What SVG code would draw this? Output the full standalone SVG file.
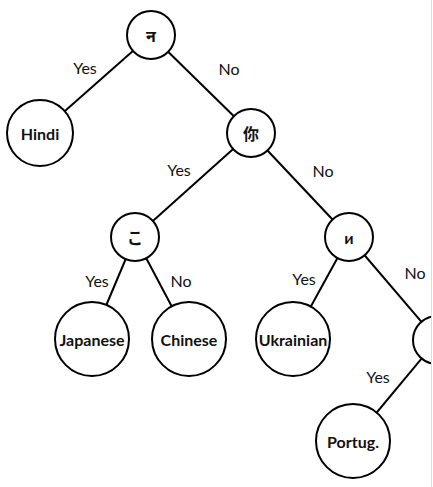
<svg xmlns="http://www.w3.org/2000/svg" width="433" height="487" viewBox="0 0 433 487">
<style>
.e{stroke:#000;stroke-width:2;fill:none}
.n{fill:#fff;stroke:#000;stroke-width:2}
.t{font-family:Lato,"Noto Sans","Noto Sans CJK SC",sans-serif;font-weight:bold;font-size:16px;text-anchor:middle;dominant-baseline:central;fill:#111}
.l{font-family:Lato,"Liberation Sans",sans-serif;font-size:16px;text-anchor:middle;fill:#111}
</style>
<defs><clipPath id="clip"><rect x="0" y="0" width="431" height="487"/></clipPath></defs>
<rect width="433" height="487" fill="#fff"/>
<g clip-path="url(#clip)">
<g id="connectors">
<line class="e" x1="151" y1="35" x2="40" y2="133"/>
<line class="e" x1="151" y1="35" x2="251" y2="133"/>
<line class="e" x1="251" y1="133" x2="135" y2="237"/>
<line class="e" x1="251" y1="133" x2="349" y2="237"/>
<line class="e" x1="135" y1="237" x2="92" y2="339"/>
<line class="e" x1="135" y1="237" x2="189" y2="339"/>
<line class="e" x1="349" y1="237" x2="293" y2="339"/>
<line class="e" x1="349" y1="237" x2="437" y2="340"/>
<line class="e" x1="437" y1="340" x2="353" y2="441"/>
</g>
<g id="labels">
<text class="l" x="85" y="74">Yes</text>
<text class="l" x="229" y="75">No</text>
<text class="l" x="179" y="176">Yes</text>
<text class="l" x="323" y="177">No</text>
<text class="l" x="97" y="287">Yes</text>
<text class="l" x="181" y="287">No</text>
<text class="l" x="304" y="285">Yes</text>
<text class="l" x="415" y="279">No</text>
<text class="l" x="378" y="383">Yes</text>
</g>
<g id="node-na"><circle class="n" cx="151" cy="35" r="24"/><text class="t" x="151" y="35" font-family="'Noto Sans','Noto Sans Devanagari',sans-serif">न</text></g>
<g id="node-hindi"><circle class="n" cx="40" cy="133" r="33"/><text class="t" x="40" y="133">Hindi</text></g>
<g id="node-ni"><circle class="n" cx="251" cy="133" r="24"/><text class="t" x="251" y="133">你</text></g>
<g id="node-ko"><circle class="n" cx="135" cy="237" r="24"/><text class="t" x="135" y="237">こ</text></g>
<g id="node-i"><circle class="n" cx="349" cy="237" r="24"/><text class="t" x="349" y="237">и</text></g>
<g id="node-japanese"><circle class="n" cx="92" cy="339" r="37"/><text class="t" x="92" y="339">Japanese</text></g>
<g id="node-chinese"><circle class="n" cx="189" cy="339" r="37"/><text class="t" x="189" y="339">Chinese</text></g>
<g id="node-ukrainian"><circle class="n" cx="293" cy="339" r="37"/><text class="t" x="293" y="339">Ukrainian</text></g>
<g id="node-right"><circle class="n" cx="437" cy="340" r="24"/></g>
<g id="node-portug"><circle class="n" cx="353" cy="441" r="37"/><text class="t" x="353" y="441">Portug.</text></g>
</g>
<line x1="431.5" y1="0" x2="431.5" y2="487" stroke="#ddd" stroke-width="1"/>
</svg>
